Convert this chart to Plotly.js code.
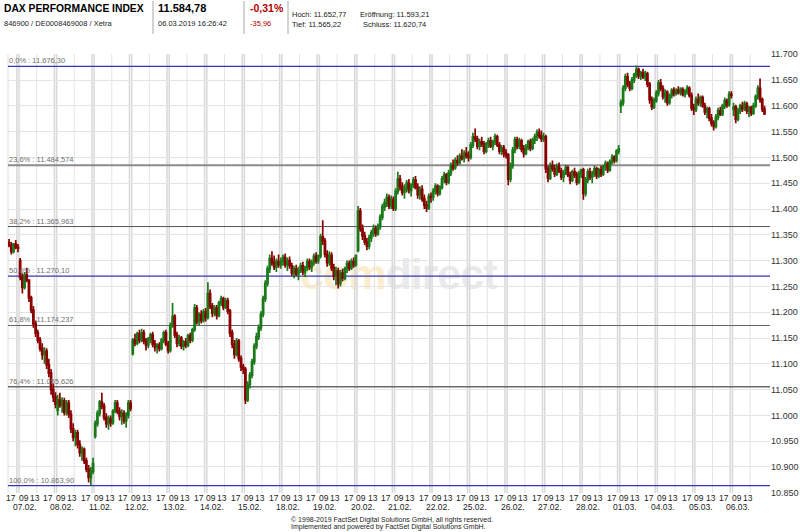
<!DOCTYPE html>
<html><head><meta charset="utf-8">
<script src="https://cdn.plot.ly/plotly-3.0.1.min.js"></script>
<style>
html,body{margin:0;padding:0;background:#fff;}
#wrap{position:relative;width:800px;height:532px;overflow:hidden;}
#wm{position:absolute;left:300px;top:250px;font-family:'Liberation Sans',Arial,sans-serif;font-weight:bold;font-size:43px;line-height:normal;white-space:nowrap;letter-spacing:-1px;}
#chart{position:absolute;left:0;top:0;width:800px;height:532px;}
</style></head><body>
<div id="wrap"><div id="wm"><span style="color:#fbeecd">com</span><span style="color:#eaeaea">direct</span></div><div id="chart"></div></div>
<script>
// ---------- DATA ----------
// header
const quoteName = 'DAX PERFORMANCE INDEX';
const quoteIds = '846900 / DE0008469008 / Xetra';
const quoteLast = '11.584,78';
const quoteTime = '06.03.2019 16:26:42';
const quoteChgPct = '-0,31%';
const quoteChgAbs = '-35,96';
const quoteStats = ['Hoch: 11.652,77', 'Eröffnung: 11.593,21', 'Tief: 11.565,22', 'Schluss: 11.620,74'];
const footer = ['© 1998-2019 FactSet Digital Solutions GmbH, all rights reserved.', 'Implemented and powered by FactSet Digital Solutions GmbH.'];

// trading days (30-min candles, slot 0 = 09:00-09:30 ... slot 16 = 17:00-17:30)
const dayLabels = ['06.02.','07.02.','08.02.','11.02.','12.02.','13.02.','14.02.','15.02.','18.02.','19.02.','20.02.',
  '21.02.','22.02.','25.02.','26.02.','27.02.','28.02.','01.03.','04.03.','05.03.','06.03.'];
const firstSlot = [12,0,0,0,0,0,0,0,0,0,0,0,0,0,0,0,0,0,0,0,0];
const hourLabels = ['17','09','13'];

// [open, high, low, close]
const d0602 = [[11335,11342,11326,11330],[11330,11336,11312,11318],[11318,11334,11314,11332],[11332,11340,11322,11326],[11326,11332,11316,11324]];
const d0702 = [[11300,11305,11262,11268],[11268,11275,11236,11248],[11248,11278,11244,11272],[11272,11286,11258,11262],
 [11262,11264,11220,11228],[11228,11232,11198,11204],[11204,11212,11170,11178],[11178,11184,11152,11160],
 [11160,11166,11140,11146],[11146,11152,11124,11130],[11130,11140,11108,11118],[11118,11132,11100,11124],
 [11124,11130,11090,11098],[11098,11110,11074,11082],[11082,11090,11040,11050],[11050,11062,11026,11036],[11036,11045,11014,11022]];
const d0802 = [[11010,11040,11000,11030],[11030,11044,11015,11020],[11020,11035,11005,11028],[11028,11034,11000,11006],
 [11006,11030,11000,11024],[11024,11030,10995,11002],[11002,11010,10966,10974],[10974,10985,10950,10958],
 [10958,10972,10940,10966],[10966,10972,10936,10944],[10944,10952,10920,10928],[10928,10940,10912,10934],
 [10934,10938,10906,10912],[10912,10918,10890,10896],[10896,10904,10870,10880],[10880,10900,10864,10892],[10892,10918,10886,10906]];
const d1102 = [[10960,10990,10955,10984],[10984,11010,10978,11004],[11004,11030,10998,11026],[11026,11044,11012,11018],
 [11018,11024,10990,10996],[10996,11004,10976,10984],[10984,11000,10972,10994],[10994,11000,10978,10986],
 [10986,11012,10982,11008],[11008,11030,11004,11024],[11024,11030,11002,11008],[11008,11016,10990,10998],
 [10998,11012,10982,11004],[11004,11010,10984,10990],[10990,11006,10976,11000],[11000,11030,10994,11024],[11024,11030,11008,11014]];
const d1202 = [[11120,11150,11116,11146],[11146,11158,11134,11140],[11140,11162,11136,11158],[11158,11166,11140,11146],
 [11146,11168,11142,11160],[11160,11166,11138,11144],[11144,11150,11126,11136],[11136,11152,11130,11148],
 [11148,11160,11140,11156],[11156,11162,11132,11138],[11138,11146,11124,11132],[11132,11140,11120,11136],
 [11136,11142,11124,11130],[11130,11150,11126,11146],[11146,11164,11140,11160],[11160,11166,11134,11138],[11138,11144,11120,11126]];
const d1302 = [[11126,11180,11122,11174],[11174,11218,11170,11192],[11192,11196,11150,11156],[11156,11162,11132,11140],
 [11140,11156,11134,11150],[11150,11154,11128,11134],[11134,11146,11126,11142],[11142,11150,11130,11136],
 [11136,11158,11132,11154],[11154,11160,11140,11146],[11146,11170,11142,11166],[11166,11216,11162,11208],
 [11208,11214,11176,11182],[11182,11200,11174,11196],[11196,11204,11178,11184],[11184,11206,11180,11200],[11200,11208,11182,11190]];
const d1402 = [[11190,11258,11186,11236],[11236,11244,11206,11212],[11212,11218,11190,11198],[11198,11214,11192,11208],
 [11208,11214,11186,11194],[11194,11222,11190,11218],[11218,11232,11212,11226],[11226,11230,11204,11210],
 [11210,11228,11206,11222],[11222,11228,11196,11202],[11202,11206,11152,11160],[11160,11166,11130,11138],
 [11138,11146,11110,11118],[11118,11150,11114,11144],[11144,11148,11104,11110],[11110,11116,11086,11094],[11094,11100,11080,11089]];
const d1502 = [[11089,11094,11022,11030],[11030,11066,11026,11060],[11060,11084,11052,11078],[11078,11110,11072,11104],
 [11104,11140,11098,11134],[11134,11160,11128,11152],[11152,11176,11146,11170],[11170,11202,11164,11196],
 [11196,11232,11190,11226],[11226,11262,11220,11256],[11256,11290,11250,11284],[11284,11312,11276,11304],
 [11304,11318,11290,11296],[11296,11310,11282,11288],[11288,11304,11278,11298],[11298,11312,11286,11292],[11292,11306,11284,11299]];
const d1802 = [[11299,11312,11290,11306],[11306,11314,11286,11292],[11292,11306,11280,11300],[11300,11308,11284,11290],
 [11290,11296,11270,11276],[11276,11290,11266,11284],[11284,11292,11270,11274],[11274,11288,11262,11282],
 [11282,11296,11276,11290],[11290,11298,11272,11278],[11278,11290,11268,11286],[11286,11304,11280,11298],
 [11298,11304,11282,11288],[11288,11302,11278,11296],[11296,11314,11290,11308],[11308,11316,11294,11300],[11300,11312,11294,11309]];
const d1902 = [[11309,11352,11304,11346],[11346,11378,11330,11338],[11338,11344,11306,11312],[11312,11320,11288,11296],
 [11296,11318,11290,11310],[11310,11316,11280,11286],[11286,11294,11262,11270],[11270,11288,11252,11280],
 [11280,11286,11246,11256],[11256,11282,11250,11276],[11276,11284,11260,11266],[11266,11288,11262,11284],
 [11284,11300,11276,11294],[11294,11300,11280,11286],[11286,11304,11282,11298],[11298,11306,11286,11292],[11292,11312,11288,11309]];
const d2002 = [[11320,11406,11316,11396],[11396,11402,11356,11362],[11362,11370,11340,11348],[11348,11356,11330,11336],
 [11336,11344,11320,11328],[11328,11350,11322,11344],[11344,11360,11336,11354],[11354,11370,11346,11362],
 [11362,11368,11346,11352],[11352,11372,11348,11366],[11366,11390,11360,11384],[11384,11410,11378,11404],
 [11404,11420,11396,11412],[11412,11430,11404,11422],[11422,11428,11400,11406],[11406,11426,11400,11418],[11418,11424,11396,11401]];
const d2102 = [[11401,11440,11396,11434],[11434,11472,11428,11458],[11458,11466,11436,11444],[11444,11452,11426,11432],
 [11432,11448,11420,11440],[11440,11456,11432,11450],[11450,11458,11430,11436],[11436,11450,11424,11446],
 [11446,11462,11440,11456],[11456,11464,11438,11442],[11442,11450,11420,11428],[11428,11444,11418,11438],
 [11438,11446,11414,11420],[11420,11428,11400,11408],[11408,11416,11394,11402],[11402,11430,11398,11424],[11424,11432,11412,11423]];
const d2202 = [[11423,11440,11416,11434],[11434,11450,11428,11444],[11444,11448,11424,11430],[11430,11446,11426,11442],
 [11442,11464,11438,11458],[11458,11472,11450,11466],[11466,11470,11446,11452],[11452,11476,11448,11470],
 [11470,11490,11464,11484],[11484,11496,11474,11480],[11480,11500,11476,11494],[11494,11504,11484,11490],
 [11490,11508,11486,11502],[11502,11516,11494,11498],[11498,11514,11490,11508],[11508,11520,11498,11504],[11504,11512,11492,11500]];
const d2502 = [[11500,11530,11496,11524],[11524,11548,11518,11540],[11540,11556,11530,11536],[11536,11542,11516,11522],
 [11522,11536,11514,11530],[11530,11540,11520,11526],[11526,11532,11506,11512],[11512,11530,11508,11526],
 [11526,11538,11518,11532],[11532,11540,11518,11522],[11522,11534,11514,11530],[11530,11546,11524,11540],
 [11540,11544,11520,11524],[11524,11530,11506,11512],[11512,11524,11504,11518],[11518,11524,11500,11508],[11508,11516,11498,11505]];
const d2602 = [[11505,11508,11446,11458],[11458,11490,11452,11484],[11484,11520,11478,11514],[11514,11540,11508,11534],
 [11534,11540,11516,11522],[11522,11538,11516,11532],[11532,11536,11510,11516],[11516,11524,11500,11508],
 [11508,11526,11504,11520],[11520,11534,11514,11530],[11530,11536,11512,11518],[11518,11538,11514,11534],
 [11534,11546,11526,11540],[11540,11554,11532,11548],[11548,11556,11536,11542],[11542,11552,11530,11536],[11536,11548,11530,11540]];
const d2702 = [[11540,11544,11470,11478],[11478,11484,11452,11460],[11460,11490,11456,11484],[11484,11494,11472,11478],
 [11478,11486,11462,11468],[11468,11488,11464,11482],[11482,11490,11470,11474],[11474,11480,11456,11462],
 [11462,11476,11452,11470],[11470,11486,11466,11480],[11480,11484,11462,11466],[11466,11472,11448,11456],
 [11456,11476,11452,11472],[11472,11480,11460,11466],[11466,11472,11446,11452],[11452,11474,11448,11468],[11468,11478,11460,11476]];
const d2802 = [[11476,11480,11418,11430],[11430,11462,11424,11456],[11456,11478,11450,11472],[11472,11480,11456,11462],
 [11462,11474,11450,11468],[11468,11484,11462,11478],[11478,11482,11458,11464],[11464,11480,11460,11476],
 [11476,11484,11462,11468],[11468,11486,11464,11482],[11482,11494,11474,11488],[11488,11492,11470,11476],
 [11476,11496,11472,11492],[11492,11506,11486,11500],[11500,11504,11488,11494],[11494,11516,11490,11512],[11512,11524,11506,11516]];
const d0103 = [[11600,11612,11586,11606],[11606,11640,11600,11634],[11634,11662,11628,11656],[11656,11664,11636,11642],
 [11642,11648,11628,11634],[11634,11656,11630,11650],[11650,11664,11644,11660],[11660,11678,11654,11670],
 [11670,11674,11652,11658],[11658,11668,11650,11664],[11664,11672,11652,11656],[11656,11668,11648,11662],
 [11662,11666,11636,11642],[11642,11646,11604,11612],[11612,11618,11592,11598],[11598,11616,11594,11610],[11610,11630,11606,11624]];
const d0403 = [[11624,11650,11618,11644],[11644,11652,11628,11634],[11634,11640,11612,11618],[11618,11632,11606,11626],
 [11626,11630,11600,11606],[11606,11624,11602,11620],[11620,11634,11614,11630],[11630,11636,11618,11624],
 [11624,11634,11620,11630],[11630,11638,11622,11626],[11626,11636,11620,11632],[11632,11636,11618,11622],
 [11622,11632,11616,11628],[11628,11640,11622,11634],[11634,11638,11616,11620],[11620,11626,11590,11596],[11596,11604,11582,11593]];
const d0503 = [[11593,11618,11588,11612],[11612,11624,11600,11606],[11606,11620,11598,11616],[11616,11620,11596,11600],
 [11600,11606,11582,11588],[11588,11598,11576,11594],[11594,11598,11570,11576],[11576,11584,11560,11566],
 [11566,11572,11552,11560],[11560,11584,11556,11578],[11578,11596,11572,11590],[11590,11598,11580,11584],
 [11584,11604,11580,11600],[11600,11616,11594,11610],[11610,11614,11596,11602],[11602,11628,11598,11622],[11622,11628,11614,11620]];
const d0603 = [[11593,11606,11580,11598],[11598,11602,11566,11574],[11574,11596,11570,11590],[11590,11604,11584,11600],
 [11600,11608,11588,11594],[11594,11610,11590,11604],[11604,11608,11584,11590],[11590,11600,11578,11596],
 [11596,11600,11580,11586],[11586,11606,11582,11600],[11600,11622,11596,11618],[11618,11640,11612,11634],
 [11634,11653,11606,11612],[11612,11616,11588,11594],[11594,11600,11582,11585]];
const dayCandles = [d0602,d0702,d0802,d1102,d1202,d1302,d1402,d1502,d1802,d1902,d2002,d2102,d2202,d2502,d2602,d2702,d2802,d0103,d0403,d0503,d0603];

// Fibonacci retracement levels
const fibPct = ['0,0%','23,6%','38,2%','50,0%','61,8%','76,4%','100,0%'];
const fibVal = [11676.30, 11484.574, 11365.963, 11270.10, 11174.237, 11055.626, 10863.90];
const fibText = ['11.676,30','11.484,574','11.365,963','11.270,10','11.174,237','11.055,626','10.863,90'];

// ---------- STYLE ----------
const fibColor = ['#3636b4','#8c8c8c','#555555','#3636b4','#666666','#6a6a6a','#3636b4'];
const fibWidth = [1.2, 2, 1, 1.2, 1.2, 1.5, 1.2];
const FONT = "'Liberation Sans', Arial, sans-serif";
const SLOT = 0.5, DAY = 8.5;       // trading-time axis: hours since 07.02 09:00, 8.5 h per session
const L = 8, R = 770, T = 54, B = 493;
const px = v => (v - L) / (R - L), py = v => (B - v) / (B - T);

// ---------- BUILD ----------
const X = [], O = [], H = [], Lo = [], C = [];
dayCandles.forEach((arr, d) => {
  arr.forEach((q, i) => {
    X.push((d - 1) * DAY + (firstSlot[d] + i) * SLOT + SLOT / 2);
    O.push(q[0]); H.push(q[1]); Lo.push(q[2]); C.push(q[3]);
  });
});

const shapes = [];
const ann = [];
shapes.push({type:'line', xref:'paper', yref:'paper', x0:0, x1:0, y0:0, y1:1, layer:'below', line:{color:'#dedede', width:1}});
for (let d = 0; d < dayLabels.length; d++) {
  const base = (d - 1) * DAY;
  if (d >= 1) {
    shapes.push({type:'line', xref:'x', yref:'paper', x0:base, x1:base, y0:0, y1:1, layer:'below', line:{color:'#d8d8d8', width:1.5}});
    shapes.push({type:'line', xref:'x', yref:'paper', x0:base+4, x1:base+4, y0:0, y1:1, layer:'below', line:{color:'#e3e3e3', width:1}});
  }
  if (d < dayLabels.length - 1) {
    shapes.push({type:'line', xref:'x', yref:'paper', x0:base+8, x1:base+8, y0:0, y1:1, layer:'below', line:{color:'#d8d8d8', width:1.5}});
  }
}
fibVal.forEach((v, i) => {
  shapes.push({type:'line', xref:'paper', yref:'y', x0:0, x1:1, y0:v, y1:v, layer:'below', line:{color:fibColor[i], width:fibWidth[i]}});
  ann.push({xref:'paper', yref:'y', x:0, y:v, xanchor:'left', yanchor:'bottom', showarrow:false, borderpad:0,
    text: fibPct[i] + ' : ' + fibText[i], font:{family:FONT, size:7.5, color:'#707070'}});
});
for (let d = 1; d < dayLabels.length; d++) {
  const base = (d - 1) * DAY;
  const fnt = {family:FONT, size:8.5, color:'#222'};
  ann.push({xref:'x', yref:'paper', x:base - 0.5, y:0, yshift:-4.5, xanchor:'right', yanchor:'middle', showarrow:false, text:hourLabels[0], font:fnt, xshift:1});
  ann.push({xref:'x', yref:'paper', x:base, y:0, yshift:-4.5, xanchor:'left', yanchor:'middle', showarrow:false, text:hourLabels[1], font:fnt, xshift:-2.5});
  ann.push({xref:'x', yref:'paper', x:base + 4, y:0, yshift:-4.5, xanchor:'center', yanchor:'middle', showarrow:false, text:hourLabels[2], font:fnt, xshift:-2});
  ann.push({xref:'x', yref:'paper', x:base + 4, y:0, yshift:-13.5, xanchor:'right', yanchor:'middle', showarrow:false, text:dayLabels[d], font:fnt, xshift:2});
}
const hA = (text, x, y, size, color, bold) => ({xref:'paper', yref:'paper', x:px(x), y:py(y), xanchor:'left', yanchor:'middle', showarrow:false,
  text: bold ? '<b>' + text + '</b>' : text, font:{family:FONT, size:size, color:color}});
ann.push(hA(quoteName, 2, 8, 10.3, '#000', true));
ann.push(hA(quoteIds, 2, 23.5, 7.5, '#222', false));
ann.push(hA(quoteLast, 156, 8, 11, '#000', true));
ann.push(hA(quoteTime, 156, 23.5, 7.5, '#222', false));
ann.push(hA(quoteChgPct, 248, 8, 10.5, '#b40000', true));
ann.push(hA(quoteChgAbs, 248, 23.5, 7.5, '#b40000', false));
ann.push(hA(quoteStats[0], 290, 14.5, 7.5, '#222', false));
ann.push(hA(quoteStats[1], 358, 14.5, 7.5, '#222', false));
ann.push(hA(quoteStats[2], 290, 24.5, 7.5, '#222', false));
ann.push(hA(quoteStats[3], 361, 24.5, 7.5, '#222', false));
[153, 244, 288].forEach(x => shapes.push({type:'line', xref:'paper', yref:'paper', x0:px(x), x1:px(x), y0:py(1), y1:py(34), line:{color:'#a8a8a8', width:1}}));
ann.push(hA(footer[0], 289, 520, 7, '#222', false));
ann.push(hA(footer[1], 289, 527, 7, '#222', false));

const trace = {
  type:'candlestick', x:X, open:O, high:H, low:Lo, close:C,
  increasing:{line:{color:'#1a7a1a', width:1.7}, fillcolor:'#34bd34'},
  decreasing:{line:{color:'#8a0000', width:1.7}, fillcolor:'#a80000'},
  whiskerwidth:0, hoverinfo:'skip', showlegend:false
};

const layout = {
  width:800, height:532,
  margin:{l:L, r:800-R, t:T, b:532-B, pad:0},
  paper_bgcolor:'rgba(0,0,0,0)', plot_bgcolor:'rgba(0,0,0,0)',
  separators:',.',
  showlegend:false,
  xaxis:{range:[-2.5, 170], showgrid:false, zeroline:false, showticklabels:false, ticks:'', showline:false,
    rangeslider:{visible:false}, fixedrange:true},
  yaxis:{range:[10849.6, 11700.4], side:'right', tick0:10850, dtick:50, tickformat:',d', showgrid:true, gridcolor:'#e4e4e4', gridwidth:1,
    zeroline:false, showline:false, ticks:'', tickfont:{family:FONT, size:9, color:'#333'}, fixedrange:true},
  shapes:shapes, annotations:ann
};

Plotly.newPlot('chart', [trace], layout, {displayModeBar:false, staticPlot:true});
</script>
</body></html>
